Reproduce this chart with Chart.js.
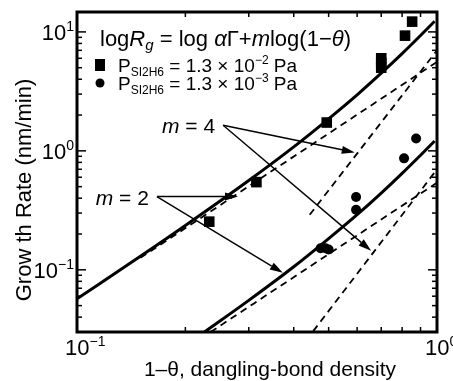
<!DOCTYPE html>
<html lang="en">
<head>
    <meta charset="UTF-8">
    <title>Growth rate vs dangling-bond density</title>
    <script src="https://cdn.jsdelivr.net/npm/chart.js"></script>
    <style>
        body { margin: 0; background: #fff; }
        #wrap { width: 453px; height: 381px; }
    </style>
</head>
<body>
    <div id="wrap"><canvas id="growthChart" width="453" height="381"></canvas></div>

    <script>
        // data
        const sqX = [0.233, 0.315, 0.494, 0.70, 0.70, 0.70, 0.815, 0.853];
        const sqY = [0.254, 0.546, 1.73, 6.0, 5.5, 5.0, 9.3, 12.2];
        const ciX = [0.475, 0.49, 0.50, 0.596, 0.596, 0.81, 0.875];
        const ciY = [0.152, 0.152, 0.148, 0.41, 0.32, 0.865, 1.27];

        const upperFitX = [0.1, 0.15, 0.2, 0.3, 0.4, 0.5, 0.6, 0.7, 0.8, 0.9, 0.985];
        const upperFitY = [0.057, 0.130, 0.236, 0.563, 1.08, 1.86, 2.96, 4.50, 6.57, 9.33, 12.3];
        const lowerFitX = [0.226, 0.3, 0.4, 0.5, 0.6, 0.7, 0.8, 0.9, 0.985];
        const lowerFitY = [0.030, 0.0553, 0.106, 0.183, 0.291, 0.442, 0.647, 0.918, 1.21];

        const upperM2X = [0.15, 1], upperM2Y = [0.126, 5.6];
        const upperM4X = [0.443, 1], upperM4Y = [0.29, 7.0];
        const lowerM2X = [0.235, 1], lowerM2Y = [0.030, 0.54];
        const lowerM4X = [0.453, 1], lowerM4Y = [0.0305, 0.70];

        const xTicks = [0.1, 1];
        const xTickExp = ['\u22121', '0'];
        const yTicks = [0.1, 1, 10];
        const yTickExp = ['\u22121', '0', '1'];

        // annotation arrows, in data units
        const m4From = [0.2546, 1.64], m4To = [[0.591, 0.97], [0.656, 0.1445]];
        const m2From = [0.1667, 0.413], m2To = [[0.280, 0.413], [0.373, 0.0944]];

        const pts = (xs, ys) => xs.map((x, i) => ({ x: x, y: ys[i] }));
        const FONT = '"Liberation Sans", Arial, sans-serif';

        function lineSet(xs, ys, dashed, width) {
            return {
                data: pts(xs, ys), showLine: true, pointRadius: 0,
                borderColor: '#000', borderWidth: width,
                borderDash: dashed ? [7, 5] : [],
                cubicInterpolationMode: 'monotone', fill: false
            };
        }

        function rich(ctx, parts, x, y) {
            // parts: [text, size, style, dy]
            ctx.textBaseline = 'alphabetic';
            ctx.textAlign = 'left';
            parts.forEach(p => {
                ctx.font = (p[2] || '') + ' ' + p[1] + 'px ' + FONT;
                ctx.fillText(p[0], x, y + (p[3] || 0));
                x += ctx.measureText(p[0]).width;
            });
            return x;
        }
        function richWidth(ctx, parts) {
            let w = 0;
            parts.forEach(p => {
                ctx.font = (p[2] || '') + ' ' + p[1] + 'px ' + FONT;
                w += ctx.measureText(p[0]).width;
            });
            return w;
        }

        function arrow(ctx, x0, y0, x1, y1) {
            const a = Math.atan2(y1 - y0, x1 - x0);
            const len = 13, half = 4;
            ctx.beginPath();
            ctx.moveTo(x0, y0);
            ctx.lineTo(x1 - len * Math.cos(a), y1 - len * Math.sin(a));
            ctx.stroke();
            ctx.beginPath();
            ctx.moveTo(x1, y1);
            ctx.lineTo(x1 - len * Math.cos(a) + half * Math.sin(a), y1 - len * Math.sin(a) - half * Math.cos(a));
            ctx.lineTo(x1 - len * Math.cos(a) - half * Math.sin(a), y1 - len * Math.sin(a) + half * Math.cos(a));
            ctx.closePath();
            ctx.fill();
        }

        const decor = {
            id: 'decor',
            afterDraw(chart) {
                const ctx = chart.ctx, a = chart.chartArea;
                const sx = chart.scales.x, sy = chart.scales.y;
                ctx.save();
                ctx.fillStyle = '#000';
                ctx.strokeStyle = '#000';

                // inward ticks on all four sides
                ctx.lineWidth = 1.5;
                const tick = (px, py, dx, dy) => { ctx.beginPath(); ctx.moveTo(px, py); ctx.lineTo(px + dx, py + dy); ctx.stroke(); };
                for (let k = -2; k <= 1; k++) {
                    for (let d = 1; d <= 9; d++) {
                        const v = d * Math.pow(10, k);
                        const L = d === 1 ? 9 : 5;
                        if (v >= sx.min - 1e-9 && v <= sx.max + 1e-9) {
                            const px = sx.getPixelForValue(v);
                            tick(px, a.bottom, 0, -L);
                            tick(px, a.top, 0, L);
                        }
                        if (v >= sy.min && v <= sy.max) {
                            const py = sy.getPixelForValue(v);
                            tick(a.left, py, L, 0);
                            tick(a.right, py, -L, 0);
                        }
                    }
                }

                // frame
                ctx.lineWidth = 3;
                ctx.strokeRect(a.left, a.top, a.right - a.left, a.bottom - a.top);

                // tick labels
                xTicks.forEach((v, i) => {
                    const parts = [['10', 22], [xTickExp[i], 14, '', -9]];
                    const px = sx.getPixelForValue(v);
                    rich(ctx, parts, px - 12, a.bottom + 23);
                });
                yTicks.forEach((v, i) => {
                    const parts = [['10', 22], [yTickExp[i], 14, '', -9]];
                    const w = richWidth(ctx, parts);
                    rich(ctx, parts, a.left - 3 - w, sy.getPixelForValue(v) + 8);
                });

                // axis titles
                ctx.font = '21px ' + FONT;
                ctx.textAlign = 'center';
                ctx.textBaseline = 'middle';
                ctx.fillText('1\u2013\u03b8, dangling-bond density', 270, 370);
                ctx.font = '22px ' + FONT;
                ctx.save();
                ctx.translate(25, 190);
                ctx.rotate(-Math.PI / 2);
                ctx.fillText('Grow th Rate (nm/min)', 0, 0);
                ctx.restore();

                // formula and legend
                rich(ctx, [['log', 22], ['R', 22, 'italic'], ['g', 15, 'italic', 4], [' = log ', 22],
                    ['\u03b1', 22, 'italic'], ['\u0393', 22], ['+', 22], ['m', 22, 'italic'],
                    ['log(1\u2212', 22], ['\u03b8', 22, 'italic'], [')', 22]], 100, 46);
                ctx.fillRect(95, 59, 10, 12);
                ctx.beginPath(); ctx.arc(100, 83, 4.5, 0, Math.PI * 2); ctx.fill();
                rich(ctx, [['P', 19], ['SI2H6', 12, '', 4], [' = 1.3 \u00d7 10', 19], ['\u22122', 12, '', -8], [' Pa', 19]], 118, 72);
                rich(ctx, [['P', 19], ['SI2H6', 12, '', 4], [' = 1.3 \u00d7 10', 19], ['\u22123', 12, '', -8], [' Pa', 19]], 118, 90);

                // m = 4 / m = 2 annotations
                ctx.lineWidth = 1.4;
                [[m4From, m4To, '4'], [m2From, m2To, '2']].forEach(g => {
                    const fx = sx.getPixelForValue(g[0][0]), fy = sy.getPixelForValue(g[0][1]);
                    g[1].forEach(t => arrow(ctx, fx, fy, sx.getPixelForValue(t[0]), sy.getPixelForValue(t[1])));
                    const parts = [['m', 21, 'italic'], [' = ' + g[2], 21]];
                    rich(ctx, parts, fx - 8 - richWidth(ctx, parts), fy + 8);
                });
                ctx.restore();
            }
        };

        new Chart(document.getElementById('growthChart'), {
            type: 'scatter',
            data: {
                datasets: [
                    { data: pts(sqX, sqY), pointStyle: 'rect', pointRadius: 7.5, backgroundColor: '#000', borderColor: '#000', borderWidth: 0 },
                    { data: pts(ciX, ciY), pointStyle: 'circle', pointRadius: 5, backgroundColor: '#000', borderColor: '#000', borderWidth: 0 },
                    lineSet(upperFitX, upperFitY, false, 3),
                    lineSet(lowerFitX, lowerFitY, false, 3),
                    lineSet(upperM2X, upperM2Y, true, 1.8),
                    lineSet(upperM4X, upperM4Y, true, 1.8),
                    lineSet(lowerM2X, lowerM2Y, true, 1.8),
                    lineSet(lowerM4X, lowerM4Y, true, 1.8)
                ]
            },
            options: {
                responsive: false,
                animation: false,
                layout: { padding: { left: 77, right: 16, top: 12, bottom: 49 } },
                plugins: { legend: { display: false }, tooltip: { enabled: false } },
                scales: {
                    x: { type: 'logarithmic', min: 0.1, max: 1, display: false },
                    y: { type: 'logarithmic', min: 0.030, max: 14.7, display: false }
                }
            },
            plugins: [decor]
        });
    </script>
</body>
</html>
